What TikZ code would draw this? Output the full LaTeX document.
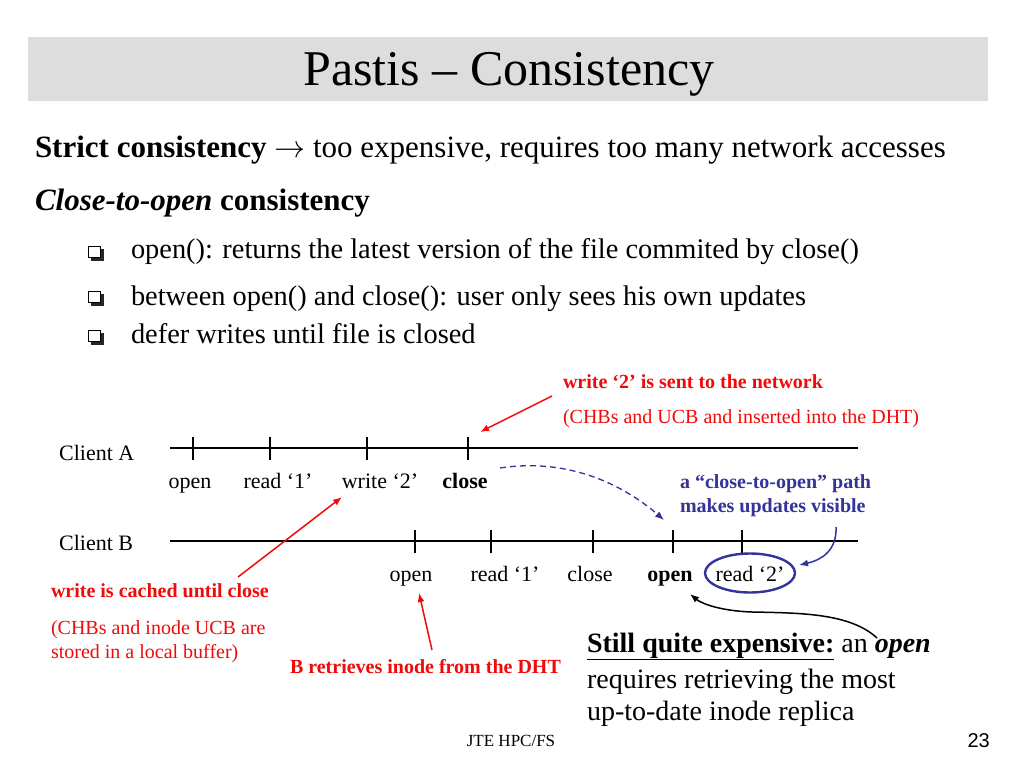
\RequirePackage{fix-cm}
\documentclass[tikz,border=0pt]{standalone}
\usepackage{fontspec}
\setmainfont{Liberation Serif}
\newfontfamily\arialfont{Liberation Sans}
\usetikzlibrary{arrows.meta}
\definecolor{slidered}{RGB}{240,10,10}
\definecolor{slideblue}{RGB}{51,51,153}
\definecolor{titlegray}{RGB}{221,221,221}
\tikzset{
  txt/.style={inner sep=0pt, outer sep=0pt, anchor=base west},
  body/.style={txt, font=\fontsize{31}{36}\selectfont},
  bullettxt/.style={txt, font=\fontsize{28.4}{34}\selectfont},
  lbl/.style={inner sep=0pt, anchor=base, font=\fontsize{22}{26}\selectfont},
  note/.style={txt, font=\fontsize{20}{24}\selectfont},
  timeline/.style={line width=1.2pt},
  tick/.style={line width=1.2pt},
  redarrow/.style={slidered, line width=1.5pt, -{Latex[length=9pt,width=7pt]}},
  bluearrow/.style={slideblue, line width=1.5pt, -{Latex[length=9pt,width=7pt]}},
  blackarrow/.style={black, line width=1.5pt, -{Latex[length=9pt,width=7pt]}},
  bulletshadow/.style={fill=black!85},
  bulletbox/.style={draw=black, fill=white, line width=1pt},
}
\begin{document}
\begin{tikzpicture}[x=1pt,y=-1pt]
\useasboundingbox (0,0) rectangle (1024,768);
\fill[white] (0,0) rectangle (1024,768);
% title
\fill[titlegray] (28,37) rectangle (988,101);
\node[inner sep=0pt, anchor=base, font=\fontsize{50}{56}\selectfont] (title) at (509,85) {Pastis -- Consistency};
% body
\node[body] (strict) at (35,157) {\textbf{Strict consistency} $\rightarrow$ too expensive, requires too many network accesses};
\node[body] (cto) at (35,210) {\textbf{\textit{Close-to-open}} \textbf{consistency}};
% bullets
\foreach \yy in {252, 297, 336}{
  \fill[bulletshadow] (90.5,\yy-3.5) rectangle (103.5,\yy+8.5);
  \draw[bulletbox] (88.5,\yy-5.5) rectangle (100.5,\yy+5.5);
}
\node[bullettxt] (t1) at (131,258) {open(): returns the latest version of the file commited by close()};
\node[bullettxt] (t2) at (131,305) {between open() and close(): user only sees his own updates};
\node[bullettxt] (t3) at (131,343) {defer writes until file is closed};
% timelines
\node[lbl, anchor=base west] (ca) at (59,460) {Client A};
\node[lbl, anchor=base west] (cb) at (59,550) {Client B};
\coordinate (aL) at (170,448); \coordinate (aR) at (858,448);
\coordinate (bL) at (170,541); \coordinate (bR) at (858,541);
\draw[timeline] (aL) -- (aR);
\draw[timeline] (bL) -- (bR);
\foreach \xx in {193,270,367,468}{ \draw[tick] (\xx,437) -- (\xx,460); }
\foreach \xx in {415,491,593,673,742}{ \draw[tick] (\xx,530) -- (\xx,553); }
% labels A
\node[lbl] (aopen) at (190,488) {open};
\node[lbl] (aread) at (278,488) {read ‘1’};
\node[lbl] (awrite) at (380,488) {write ‘2’};
\node[lbl] (aclose) at (465,488) {\textbf{close}};
% labels B
\node[lbl] (bopen) at (411,581) {open};
\node[lbl] (bread) at (505,581) {read ‘1’};
\node[lbl] (bclose) at (590,581) {close};
\node[lbl] (bopen2) at (670,581) {\textbf{open}};
\node[lbl] (bread2) at (750,581) {read ‘2’};
\draw[slideblue, line width=2.4pt] (750,573) ellipse [x radius=45, y radius=19.5];
% red top note
\node[note, slidered] (n1a) at (563,388) {\textbf{write ‘2’ is sent to the network}};
\node[note, slidered] (n1b) at (563,423) {(CHBs and UCB and inserted into the DHT)};
\coordinate (r1s) at (552,396); \coordinate (r1e) at (480,432);
\draw[redarrow] (r1s) -- (r1e);
% blue note
\node[note, slideblue] (n2a) at (680,488) {\textbf{a “close-to-open” path}};
\node[note, slideblue] (n2b) at (680,512) {\textbf{makes updates visible}};
\coordinate (bs) at (836,527); \coordinate (be) at (799,565);
\draw[bluearrow] (bs) .. controls (837,550) and (822,560) .. (be);
\coordinate (ds) at (500,468); \coordinate (de) at (664,520);
\draw[bluearrow, dashed, dash pattern=on 6pt off 4pt, line width=1.3pt] (ds) .. controls (565,458) and (620,482) .. (de);
% red left note
\node[note, slidered] (n3a) at (51,597) {\textbf{write is cached until close}};
\node[note, slidered] (n3b) at (51,634) {(CHBs and inode UCB are};
\node[note, slidered] (n3c) at (51,658) {stored in a local buffer)};
\coordinate (r2s) at (238,577); \coordinate (r2e) at (342,497);
\draw[redarrow] (r2s) -- (r2e);
% red bottom note
\node[note, slidered] (n4) at (290,673) {\textbf{B retrieves inode from the DHT}};
\coordinate (r3s) at (432,650); \coordinate (r3e) at (419,593);
\draw[redarrow] (r3s) -- (r3e);
% black note
\node[txt, font=\fontsize{28}{34}\selectfont] (s1) at (587,652) {\textbf{\underline{Still quite expensive:}} an \textbf{\textit{open}}};
\node[txt, font=\fontsize{28}{34}\selectfont] (s2) at (587,688) {requires retrieving the most};
\node[txt, font=\fontsize{28}{34}\selectfont] (s3) at (587,720) {up-to-date inode replica};
\coordinate (ks) at (877,638); \coordinate (km) at (752,612); \coordinate (ke) at (690,594);
\draw[blackarrow] (ks) .. controls (850,613) and (800,613) .. (km) .. controls (722,611) and (702,604) .. (ke);
% footer
\node[inner sep=0pt, anchor=base, font=\fontsize{17}{20}\selectfont] (foot) at (511,746) {JTE HPC/FS};
\node[inner sep=0pt, anchor=base east, font=\arialfont\fontsize{20}{24}\selectfont] (pg) at (990,747) {23};
\end{tikzpicture}
\end{document}
